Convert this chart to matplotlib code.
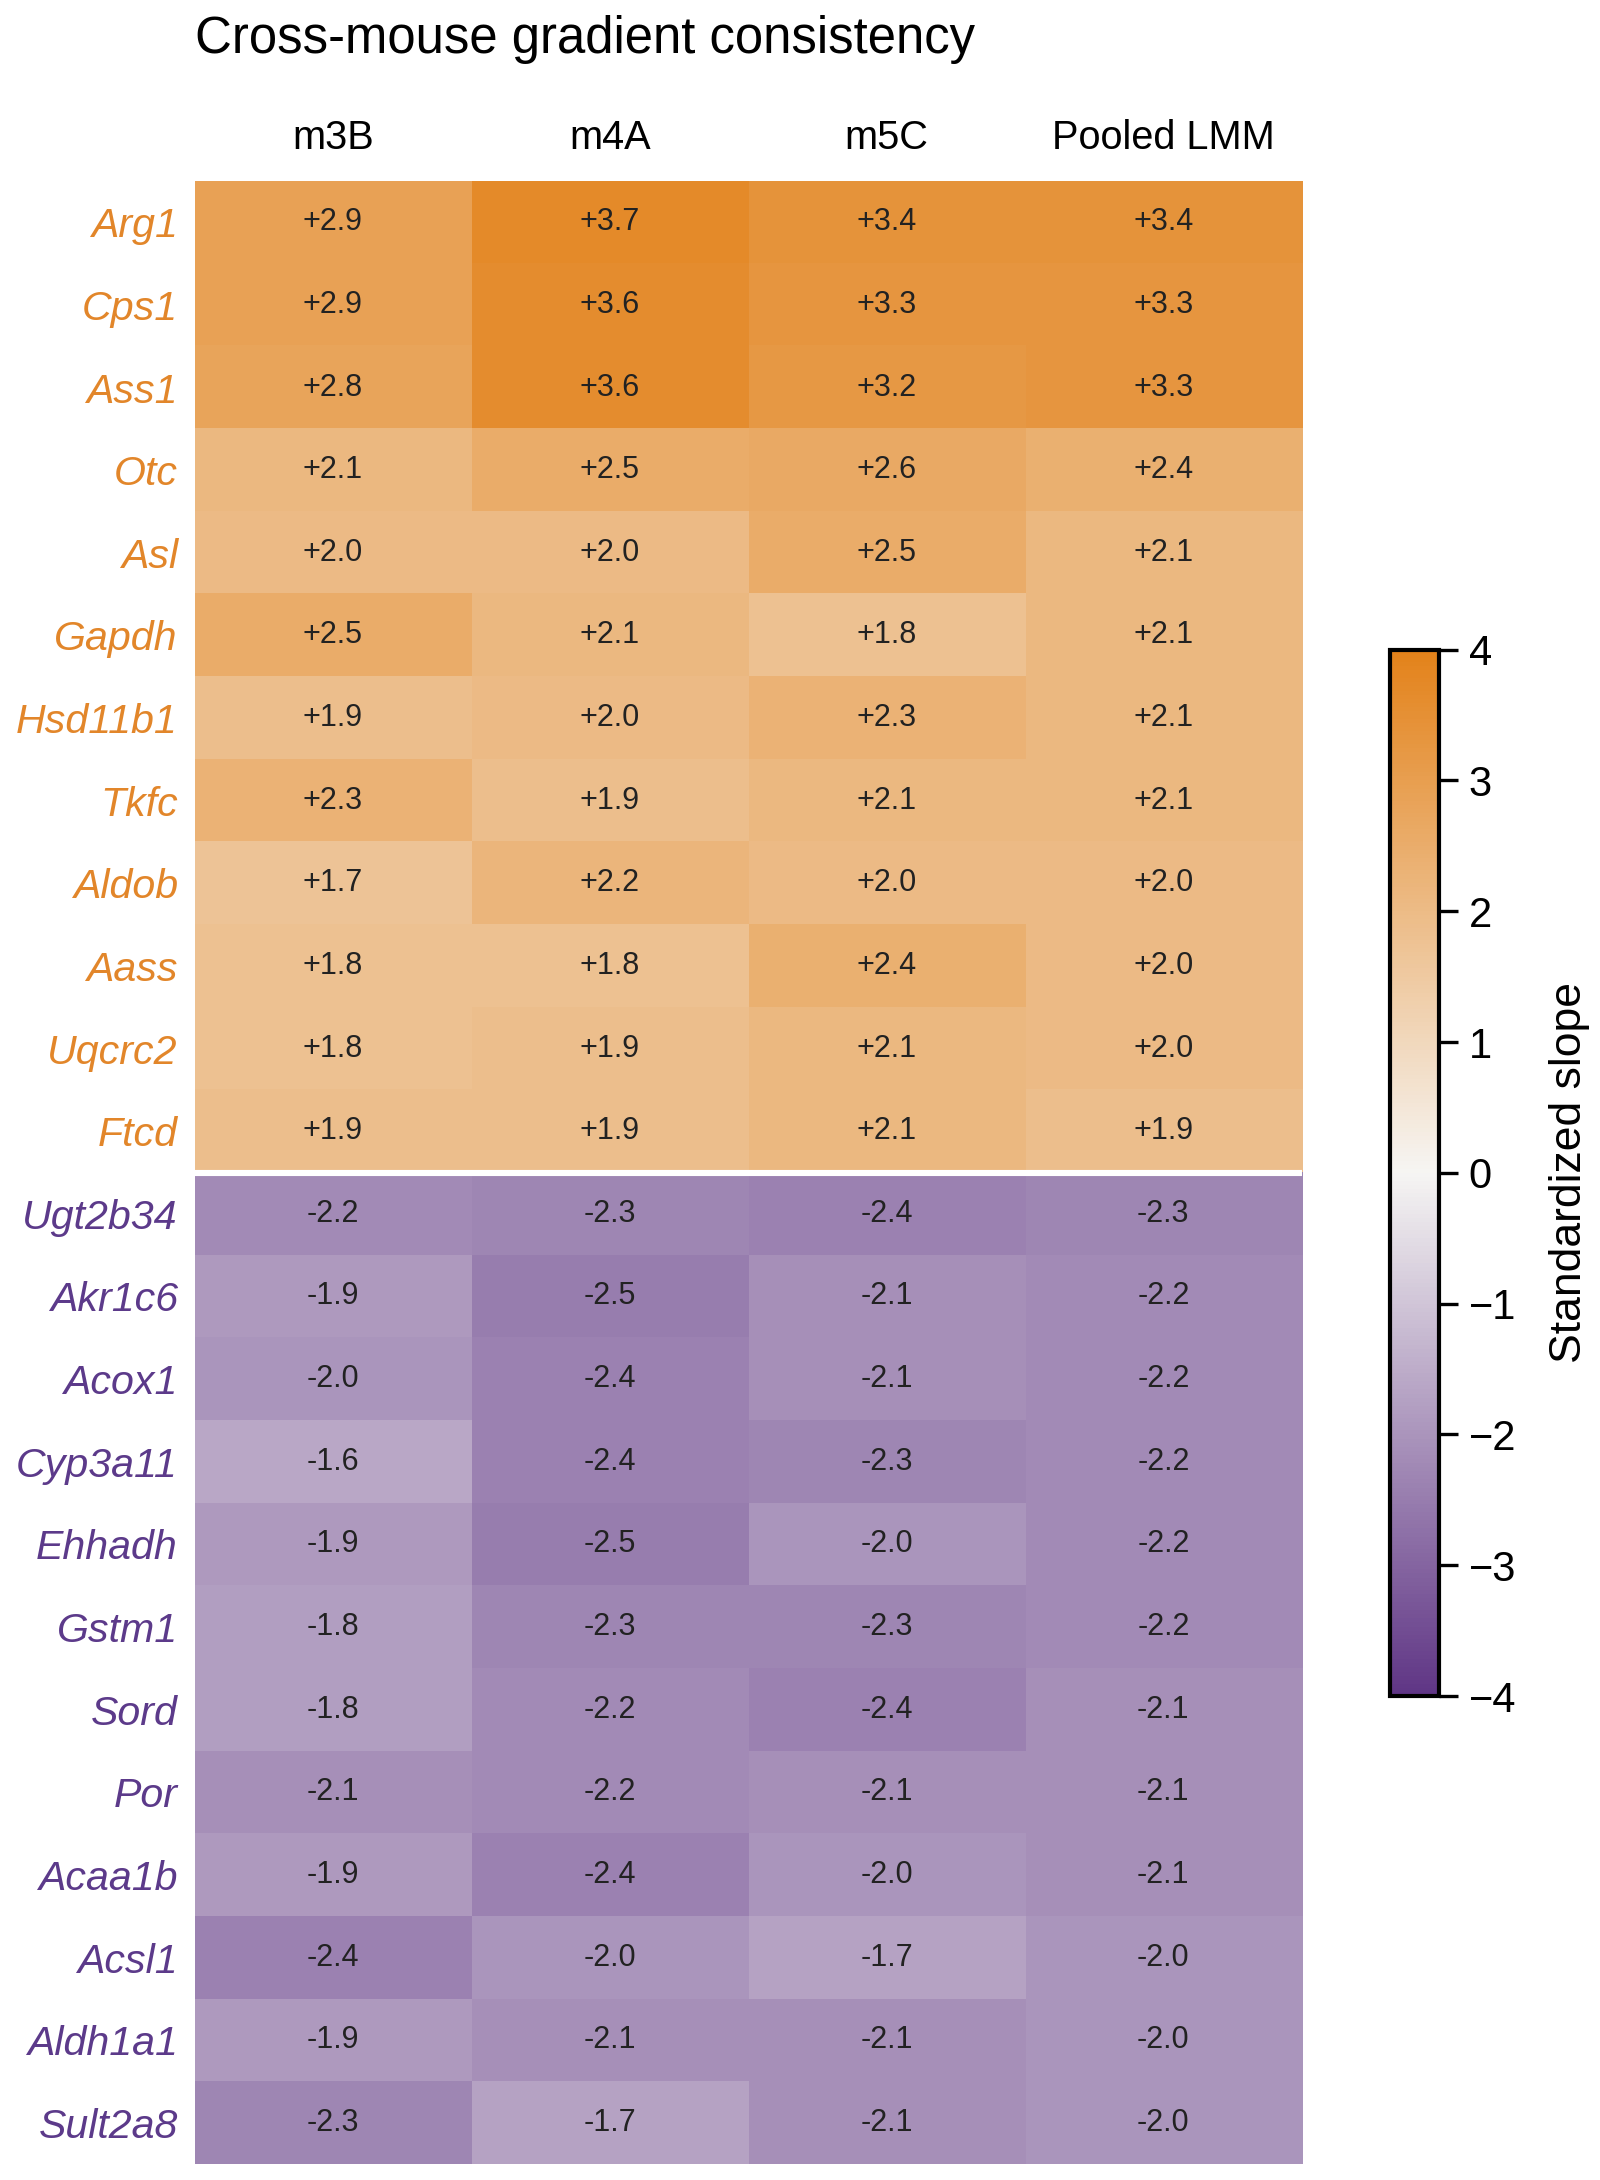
import numpy as np
import matplotlib
matplotlib.use("Agg")
import matplotlib.pyplot as plt
from matplotlib.colors import LinearSegmentedColormap

plt.rcParams["font.family"] = ["Liberation Sans", "DejaVu Sans"]

columns = ["m3B", "m4A", "m5C", "Pooled LMM"]

genes_up = ["Arg1", "Cps1", "Ass1", "Otc", "Asl", "Gapdh", "Hsd11b1", "Tkfc",
            "Aldob", "Aass", "Uqcrc2", "Ftcd"]
slopes_up = [
    [2.9, 3.7, 3.4, 3.4],
    [2.9, 3.6, 3.3, 3.3],
    [2.8, 3.6, 3.2, 3.3],
    [2.1, 2.5, 2.6, 2.4],
    [2.0, 2.0, 2.5, 2.1],
    [2.5, 2.1, 1.8, 2.1],
    [1.9, 2.0, 2.3, 2.1],
    [2.3, 1.9, 2.1, 2.1],
    [1.7, 2.2, 2.0, 2.0],
    [1.8, 1.8, 2.4, 2.0],
    [1.8, 1.9, 2.1, 2.0],
    [1.9, 1.9, 2.1, 1.9],
]

genes_down = ["Ugt2b34", "Akr1c6", "Acox1", "Cyp3a11", "Ehhadh", "Gstm1", "Sord",
              "Por", "Acaa1b", "Acsl1", "Aldh1a1", "Sult2a8"]
slopes_down = [
    [-2.2, -2.3, -2.4, -2.3],
    [-1.9, -2.5, -2.1, -2.2],
    [-2.0, -2.4, -2.1, -2.2],
    [-1.6, -2.4, -2.3, -2.2],
    [-1.9, -2.5, -2.0, -2.2],
    [-1.8, -2.3, -2.3, -2.2],
    [-1.8, -2.2, -2.4, -2.1],
    [-2.1, -2.2, -2.1, -2.1],
    [-1.9, -2.4, -2.0, -2.1],
    [-2.4, -2.0, -1.7, -2.0],
    [-1.9, -2.1, -2.1, -2.0],
    [-2.3, -1.7, -2.1, -2.0],
]

genes = genes_up + genes_down
data = np.array(slopes_up + slopes_down)

orange = "#E2862A"
purple = "#5C3A8A"
cmap = LinearSegmentedColormap.from_list("pu_or", ["#5F3585", "#F6F5F3", "#E3821A"])

fig = plt.figure(figsize=(8, 10.9), dpi=200)
ax = fig.add_axes([0.1216, 0.0073, 0.692, 0.9097])
im = ax.imshow(data, cmap=cmap, vmin=-4, vmax=4, aspect="auto",
               interpolation="nearest")

for i in range(data.shape[0]):
    for j in range(data.shape[1]):
        ax.text(j, i, "{:+.1f}".format(data[i, j]), ha="center", va="center",
                fontsize=11, color="#222222")

# white line between up and down genes
ax.axhline(len(genes_up) - 0.5, color="white", lw=2.2)

ax.set_xticks(range(len(columns)))
ax.set_xticklabels(columns, fontsize=14.3)
ax.xaxis.tick_top()
ax.tick_params(axis="x", length=0, pad=8.5)
ax.set_yticks(range(len(genes)))
ax.set_yticklabels(genes, fontsize=14.8, style="italic")
ax.tick_params(axis="y", length=0, pad=6)
for lab, g in zip(ax.get_yticklabels(), genes):
    lab.set_color(orange if g in genes_up else purple)
for s in ax.spines.values():
    s.set_visible(False)

fig.text(0.1216, 0.982, "Cross-mouse gradient consistency", fontsize=18.3,
         ha="left", va="center")

cax = fig.add_axes([0.869, 0.222, 0.0306, 0.480])
cb = fig.colorbar(im, cax=cax, ticks=range(-4, 5))
cb.outline.set_linewidth(1.5)
cax.tick_params(labelsize=15, length=7, width=1.2)
cb.set_label("Standardized slope", fontsize=16, labelpad=12)

fig.savefig("out.png", dpi=200)
